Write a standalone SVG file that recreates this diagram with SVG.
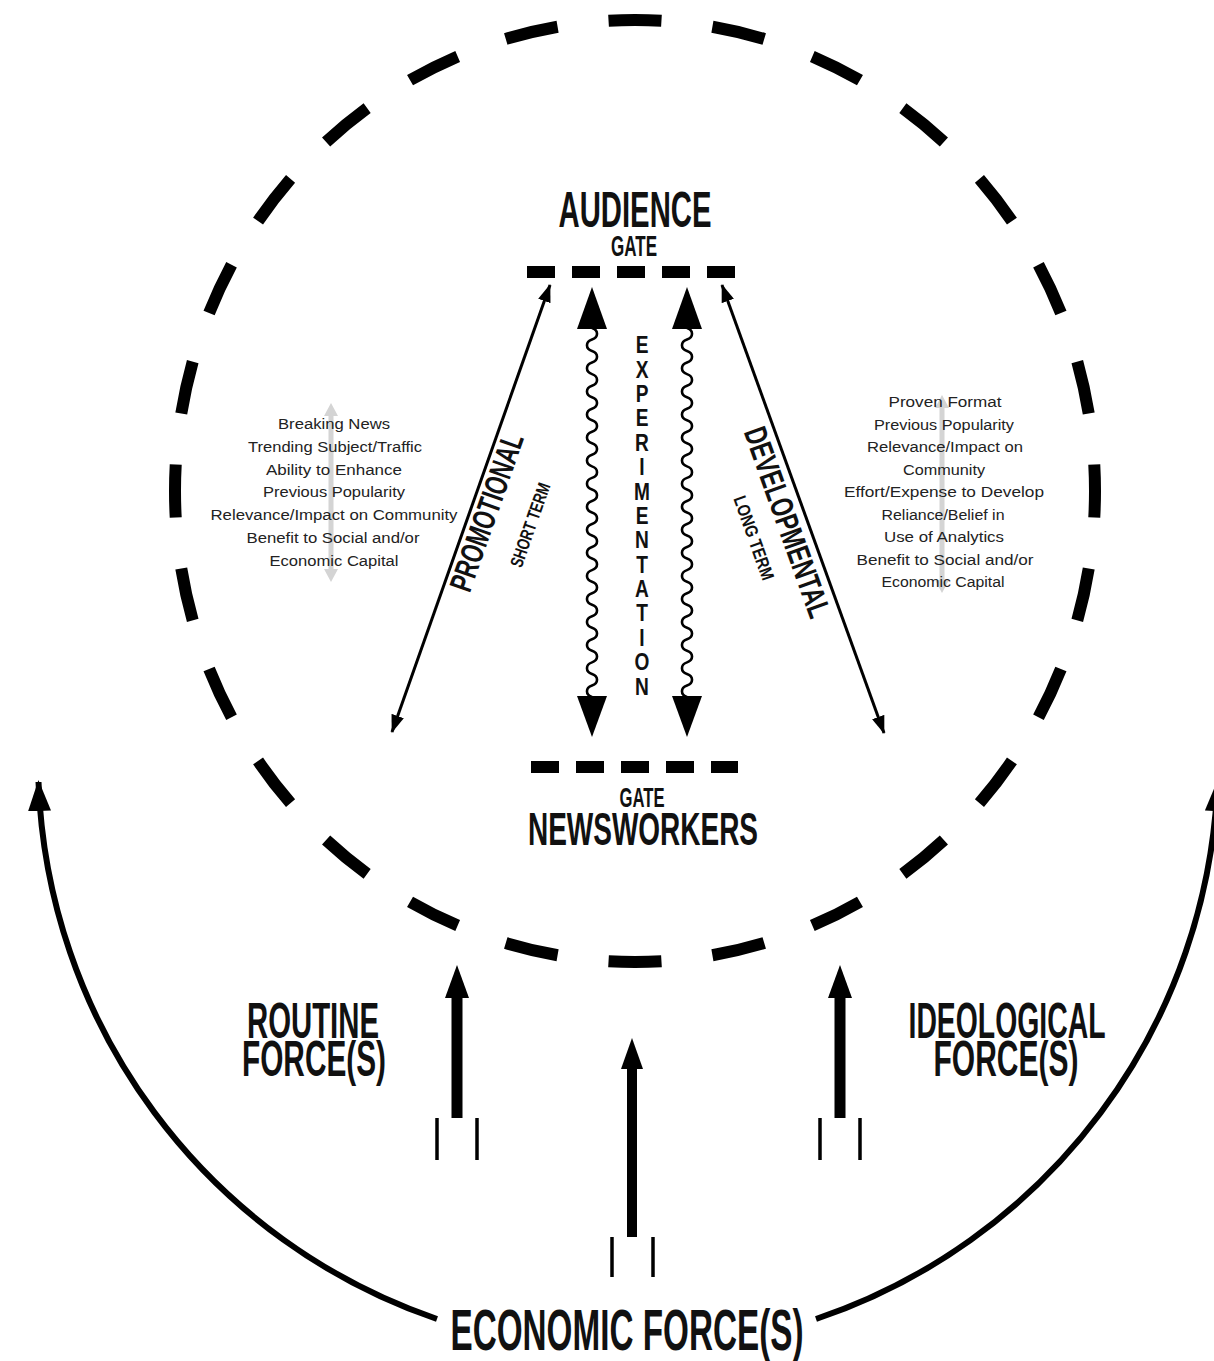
<svg xmlns="http://www.w3.org/2000/svg" width="1214" height="1361" viewBox="0 0 1214 1361">
<style>
.head{font-family:"Liberation Sans",Arial,sans-serif;font-weight:700;fill:#111;text-anchor:middle}
.list{font-family:"Liberation Sans",Arial,sans-serif;font-size:15.5px;fill:#222;text-anchor:middle}
.vert{font-family:"Liberation Sans",Arial,sans-serif;font-weight:700;fill:#111;writing-mode:vertical-rl;text-orientation:upright;letter-spacing:-3.5px}
.thin{fill:none;stroke:#000;stroke-width:3}
.wave{fill:none;stroke:#000;stroke-width:2.6}
.big{fill:none;stroke:#000;stroke-width:6}
.tick{stroke:#000;stroke-width:3.5}
.gate{stroke:#000;stroke-width:12;stroke-dasharray:28 17}
.ghost{stroke:#d4d4d4;stroke-width:5}
</style>
<defs>
<marker id="mThin" markerUnits="userSpaceOnUse" markerWidth="18" markerHeight="13" refX="17" refY="6.5" orient="auto-start-reverse"><path d="M0,0 L18,6.5 L0,13 z" fill="#000"/></marker>
<marker id="mBig" markerUnits="userSpaceOnUse" markerWidth="31" markerHeight="23" refX="29" refY="11.5" orient="auto"><path d="M0,0 L31,11.5 L0,23 z" fill="#000"/></marker>
</defs>

<g id="boundary">
<path d="M635 20 A460 471 0 0 1 635 962 A460 471 0 0 1 635 20" fill="none" stroke="#000" stroke-width="12" pathLength="28" stroke-dasharray="0.51 0.49" stroke-dashoffset="0.255"/>
</g>

<g id="audience-gate">
<line class="gate" x1="527" y1="272" x2="735" y2="272"/>
<text class="head"><tspan x="635" y="227" font-size="50" textLength="153" lengthAdjust="spacingAndGlyphs">AUDIENCE</tspan><tspan x="634" y="256" font-size="29" textLength="46" lengthAdjust="spacingAndGlyphs">GATE</tspan></text>
</g>

<g id="newsworkers-gate">
<line class="gate" x1="531" y1="767" x2="738" y2="767"/>
<text class="head"><tspan x="642" y="807" font-size="28" textLength="45" lengthAdjust="spacingAndGlyphs">GATE</tspan><tspan x="643" y="845" font-size="46" textLength="230" lengthAdjust="spacingAndGlyphs">NEWSWORKERS</tspan></text>
</g>

<g id="promotional-factors">
<line class="ghost" x1="331" y1="413" x2="331" y2="572"/>
<polygon points="331,403 324,416 338,416" fill="#d4d4d4"/>
<polygon points="331,582 324,569 338,569" fill="#d4d4d4"/>
<text class="list" x="334" y="429" textLength="112" lengthAdjust="spacingAndGlyphs">Breaking News</text>
<text class="list" x="335" y="452" textLength="174" lengthAdjust="spacingAndGlyphs">Trending Subject/Traffic</text>
<text class="list" x="334" y="475" textLength="136" lengthAdjust="spacingAndGlyphs">Ability to Enhance</text>
<text class="list" x="334" y="497" textLength="142" lengthAdjust="spacingAndGlyphs">Previous Popularity</text>
<text class="list" x="334" y="520" textLength="247" lengthAdjust="spacingAndGlyphs">Relevance/Impact on Community</text>
<text class="list" x="333" y="543" textLength="173" lengthAdjust="spacingAndGlyphs">Benefit to Social and/or</text>
<text class="list" x="334" y="566" textLength="129" lengthAdjust="spacingAndGlyphs">Economic Capital</text>
</g>

<g id="developmental-factors">
<line class="ghost" x1="942" y1="405" x2="942" y2="583"/>
<polygon points="942,395 935,408 949,408" fill="#d4d4d4"/>
<polygon points="942,593 935,580 949,580" fill="#d4d4d4"/>
<text class="list" x="945" y="407" textLength="113" lengthAdjust="spacingAndGlyphs">Proven Format</text>
<text class="list" x="944" y="430" textLength="140" lengthAdjust="spacingAndGlyphs">Previous Popularity</text>
<text class="list" x="945" y="452" textLength="156" lengthAdjust="spacingAndGlyphs">Relevance/Impact on</text>
<text class="list" x="944" y="475" textLength="82" lengthAdjust="spacingAndGlyphs">Community</text>
<text class="list" x="944" y="497" textLength="200" lengthAdjust="spacingAndGlyphs">Effort/Expense to Develop</text>
<text class="list" x="943" y="520" textLength="123" lengthAdjust="spacingAndGlyphs">Reliance/Belief in</text>
<text class="list" x="944" y="542" textLength="120" lengthAdjust="spacingAndGlyphs">Use of Analytics</text>
<text class="list" x="945" y="565" textLength="177" lengthAdjust="spacingAndGlyphs">Benefit to Social and/or</text>
<text class="list" x="943" y="587" textLength="123" lengthAdjust="spacingAndGlyphs">Economic Capital</text>
</g>

<g id="labels">
<text class="head" font-size="32" textLength="165" lengthAdjust="spacingAndGlyphs" transform="translate(497 516) rotate(-70.7)">PROMOTIONAL</text>
<text class="head" font-size="18" textLength="88" lengthAdjust="spacingAndGlyphs" transform="translate(536 527) rotate(-70.7)">SHORT TERM</text>
<text class="head" font-size="32" textLength="200" lengthAdjust="spacingAndGlyphs" transform="translate(777 526) rotate(70.4)">DEVELOPMENTAL</text>
<text class="head" font-size="18" textLength="88" lengthAdjust="spacingAndGlyphs" transform="translate(748 540) rotate(70.4)">LONG TERM</text>
<g transform="translate(642 0) scale(0.78 1)">
<text class="vert" x="0" y="331" font-size="24.5">EXPERIMENTATION</text>
</g>
</g>

<g id="routine-forces">
<text class="head" font-size="50"><tspan x="313" y="1038" textLength="132" lengthAdjust="spacingAndGlyphs">ROUTINE</tspan><tspan x="314" y="1076" textLength="144" lengthAdjust="spacingAndGlyphs">FORCE(S)</tspan></text>
</g>
<g id="ideological-forces">
<text class="head" font-size="50"><tspan x="1007" y="1038" textLength="197" lengthAdjust="spacingAndGlyphs">IDEOLOGICAL</tspan><tspan x="1006" y="1076" textLength="145" lengthAdjust="spacingAndGlyphs">FORCE(S)</tspan></text>
</g>
<g id="economic-forces">
<text class="head" x="627" y="1350" font-size="58" textLength="353" lengthAdjust="spacingAndGlyphs">ECONOMIC FORCE(S)</text>
</g>

<g id="connectors">
<line class="thin" x1="550" y1="285" x2="392" y2="732" marker-start="url(#mThin)" marker-end="url(#mThin)"/>
<line class="thin" x1="722" y1="285" x2="884" y2="733" marker-start="url(#mThin)" marker-end="url(#mThin)"/>
<path class="wave" d="M592 328 c6.7 2.3 6.7 9.2 0 11.53 s-6.7 9.2 0 11.53 s6.7 9.2 0 11.53 s-6.7 9.2 0 11.53 s6.7 9.2 0 11.53 s-6.7 9.2 0 11.53 s6.7 9.2 0 11.53 s-6.7 9.2 0 11.53 s6.7 9.2 0 11.53 s-6.7 9.2 0 11.53 s6.7 9.2 0 11.53 s-6.7 9.2 0 11.53 s6.7 9.2 0 11.53 s-6.7 9.2 0 11.53 s6.7 9.2 0 11.53 s-6.7 9.2 0 11.53 s6.7 9.2 0 11.53 s-6.7 9.2 0 11.53 s6.7 9.2 0 11.53 s-6.7 9.2 0 11.53 s6.7 9.2 0 11.53 s-6.7 9.2 0 11.53 s6.7 9.2 0 11.53 s-6.7 9.2 0 11.53 s6.7 9.2 0 11.53 s-6.7 9.2 0 11.53 s6.7 9.2 0 11.53 s-6.7 9.2 0 11.53 s6.7 9.2 0 11.53 s-6.7 9.2 0 11.53 s6.7 9.2 0 11.53 s-6.7 9.2 0 11.53"/>
<path class="wave" d="M687 328 c6.7 2.3 6.7 9.2 0 11.53 s-6.7 9.2 0 11.53 s6.7 9.2 0 11.53 s-6.7 9.2 0 11.53 s6.7 9.2 0 11.53 s-6.7 9.2 0 11.53 s6.7 9.2 0 11.53 s-6.7 9.2 0 11.53 s6.7 9.2 0 11.53 s-6.7 9.2 0 11.53 s6.7 9.2 0 11.53 s-6.7 9.2 0 11.53 s6.7 9.2 0 11.53 s-6.7 9.2 0 11.53 s6.7 9.2 0 11.53 s-6.7 9.2 0 11.53 s6.7 9.2 0 11.53 s-6.7 9.2 0 11.53 s6.7 9.2 0 11.53 s-6.7 9.2 0 11.53 s6.7 9.2 0 11.53 s-6.7 9.2 0 11.53 s6.7 9.2 0 11.53 s-6.7 9.2 0 11.53 s6.7 9.2 0 11.53 s-6.7 9.2 0 11.53 s6.7 9.2 0 11.53 s-6.7 9.2 0 11.53 s6.7 9.2 0 11.53 s-6.7 9.2 0 11.53 s6.7 9.2 0 11.53 s-6.7 9.2 0 11.53"/>
<polygon points="592,287 577,329 607,329"/>
<polygon points="592,737 577,696 607,696"/>
<polygon points="687,287 672,329 702,329"/>
<polygon points="687,737 672,696 702,696"/>
<path class="big" d="M437 1319 A590 590 0 0 1 38.5 782" marker-end="url(#mBig)"/>
<path class="big" d="M816 1319 A590 590 0 0 0 1217.5 782" marker-end="url(#mBig)"/>
<polygon points="457,965 445,998 469,998"/>
<rect x="451.5" y="996" width="11" height="122"/>
<line class="tick" x1="437" y1="1118" x2="437" y2="1160"/>
<line class="tick" x1="477" y1="1118" x2="477" y2="1160"/>
<polygon points="632,1038 621,1069 643,1069"/>
<rect x="627" y="1067" width="10" height="170"/>
<line class="tick" x1="612" y1="1237" x2="612" y2="1277"/>
<line class="tick" x1="653" y1="1237" x2="653" y2="1277"/>
<polygon points="840,965 828,998 852,998"/>
<rect x="834.5" y="996" width="11" height="122"/>
<line class="tick" x1="820" y1="1118" x2="820" y2="1160"/>
<line class="tick" x1="860" y1="1118" x2="860" y2="1160"/>
</g>
</svg>
